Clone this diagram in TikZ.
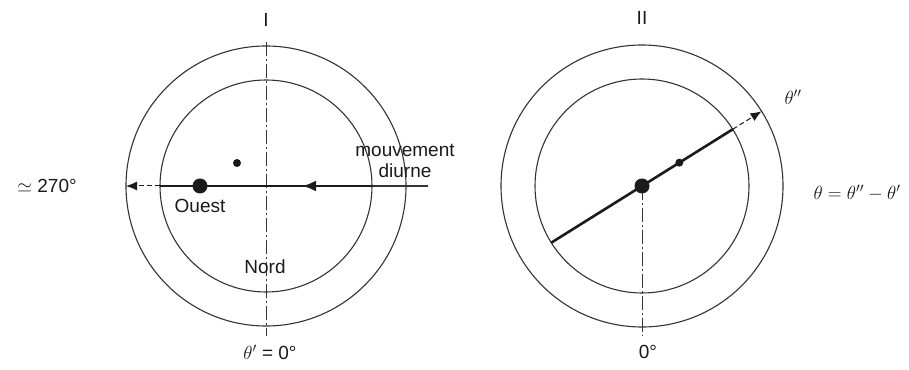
\RequirePackage{fix-cm}
\documentclass[tikz,border=0pt]{standalone}
\usepackage{fontspec}
\setmainfont{Liberation Sans}
\usetikzlibrary{positioning, arrows.meta, calc, decorations.markings}
\definecolor{cInk}{HTML}{1A1A1A}
\definecolor{cRing}{HTML}{333333}
\tikzset{
  ring/.style={draw=cRing, line width=1.1pt},
  axis/.style={draw=cRing, line width=0.9pt, dash pattern=on 14pt off 3pt on 2pt off 3pt},
  beam/.style={draw=cInk, line width=2.6pt},
  ext/.style={draw=cInk, line width=1pt, dash pattern=on 5pt off 3pt,
    -{Latex[length=11pt,width=9pt]}},
  bigdot/.style={circle, fill=cInk, inner sep=0pt, minimum size=15pt},
  smalldot/.style={circle, fill=cInk, inner sep=0pt, minimum size=8pt},
  lbl/.style={font=\fontsize{19}{21}\selectfont, text=cInk, inner sep=1pt, align=center},
}
\begin{document}
\begin{tikzpicture}[x=1pt, y=1pt]
  \useasboundingbox (0,0) rectangle (909,369);

  \coordinate (L) at (266,183);
  \coordinate (R) at (642,183);

  \draw[ring] (L) circle[radius=140pt];
  \draw[ring] (L) circle[radius=106pt];
  \coordinate (Liw)  at ($(L)+(-106pt,0)$);
  \coordinate (Lie)  at ($(L)+(106pt,0)$);
  \coordinate (Low)  at ($(L)+(-140pt,0)$);
  \coordinate (Lend) at ($(L)+(162pt,0)$);
  \coordinate (Ltop) at ($(L)+(0,144pt)$);
  \coordinate (Lbot) at ($(L)+(0,-150pt)$);

  \draw[axis] (Ltop) -- (Lbot);
  \draw[ring] (Lie) -- (Lend);
  \draw[beam, postaction={decorate}, decoration={markings,
      mark=at position 0.33 with {\arrow{Latex[length=14pt,width=11pt]}}}] (Lie) -- (Liw);
  \draw[ext] (Liw) -- (Low);
  \node[bigdot] (sun) at ($(L)+(-66pt,0)$) {};
  \node[smalldot] (star) at ($(L)+(-29pt,23pt)$) {};

  \node[lbl] (angW) at (47,183) {$\simeq$ 270°};
  \node[lbl, below=4pt of sun] (west) {Ouest};
  \node[lbl] (north) at (265,102) {Nord};
  \node[lbl] (diurnal) at (405,208) {mouvement\\diurne};
  \node[lbl] (zeroL) at (270,17) {$\theta'$ = 0°};
  \node[lbl] (numI) at (266,349) {I};

  \draw[ring] (R) circle[radius=141pt];
  \draw[ring] (R) circle[radius=107pt];
  \coordinate (Rsw)  at ($(R)+(212:107pt)$);
  \coordinate (Rne)  at ($(R)+(32:107pt)$);
  \coordinate (Rtip) at ($(R)+(32:141pt)$);
  \coordinate (Rbot) at ($(R)+(0,-150pt)$);

  \draw[axis] (R) -- (Rbot);
  \draw[beam] (Rsw) -- (Rne);
  \draw[ext] (Rne) -- (Rtip);
  \node[bigdot] (center) at (R) {};
  \node[smalldot] (image) at ($(R)+(32:44pt)$) {};

  \node[lbl] (thetaDD) at (793,272) {$\theta''$};
  \node[lbl] (diff) at (857,176) {$\theta = \theta'' - \theta'$};
  \node[lbl] (zeroR) at (648,17) {0°};
  \node[lbl] (numII) at (642,351) {II};

\end{tikzpicture}
\end{document}
